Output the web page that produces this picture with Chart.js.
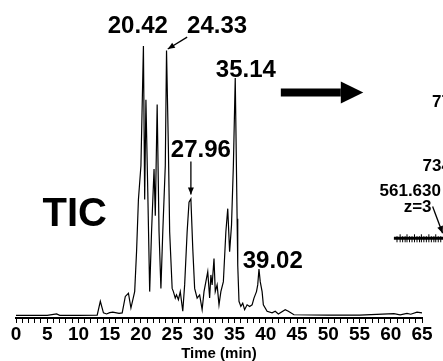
<!DOCTYPE html>
<html>
<head>
<meta charset="utf-8">
<script src="https://cdn.jsdelivr.net/npm/chart.js@4/dist/chart.umd.min.js"></script>
<style>
  html, body { margin: 0; padding: 0; background: #fff; }
  #box { width: 443px; height: 361px; }
</style>
</head>
<body>
<div id="box"><canvas id="tic"></canvas></div>
<script>
// retention time (min) and TIC intensity (% of base peak)
var time = [0, 5, 6.5, 7, 10, 13, 13.5, 14, 14.5, 15, 15.5, 16.5, 17, 17.5, 18, 18.4, 19, 19.3, 19.6, 20,
  20.4, 20.6, 20.8, 21.1, 21.4, 21.7, 22.1, 22.3, 22.6, 22.9, 23.2, 23.5, 23.9, 24.1, 24.4, 24.6, 25.0,
  25.2, 25.5, 25.7, 26.0, 26.3, 26.7, 27.0, 27.4, 27.7, 28.0, 28.3, 28.6, 29.0, 29.4, 29.8, 30.1, 30.4,
  30.7, 31.0, 31.2, 31.4, 31.7, 31.9, 32.2, 32.5, 32.8, 33.2, 33.6, 33.9, 34.2, 34.5, 34.8, 35.1, 35.4,
  35.5, 35.7, 36.0, 36.3, 36.6, 37.0, 37.4, 37.8, 38.1, 38.5, 38.7, 38.9, 39.1, 39.4, 39.6, 40.2, 41.0,
  41.5, 42.0, 43.1, 43.6, 44.5, 50, 55, 60.5, 61.5, 62.6, 63.2, 64.2, 65];
var intensity = [0, 0, 0.5, 0, 0, 0.1, 5.2, 0.9, 0.5, 1, 1.2, 0.7, 0.9, 7, 8.2, 2.7, 8.8, 23.6, 43, 55.5,
  100, 43, 80, 45.7, 8.8, 31, 54.3, 37, 78.3, 31, 10, 31, 55.5, 98.3, 61.7, 31, 10,
  8.8, 6.4, 7.6, 5.8, 8.8, 1.5, 11.3, 31, 42, 43.2, 24.8, 10, 6.4, 7.6, 2.1, 8.8, 12.5,
  16.2, 6.4, 15, 11.3, 21.1, 8.8, 11.3, 3.9, 8.8, 12.5, 31, 39.6, 23.6, 33.4, 55.5, 88.1, 35.9,
  18.7, 5.2, 3.3, 4.5, 2.1, 3.9, 3.3, 3.9, 6.4, 8.8, 11.3, 17.2, 12.5, 8.8, 3.9, 1.5, 0.9,
  1.5, 0.5, 2.1, 1.5, 0.2, 0.1, 0.1, 0.6, 0.2, 0.7, 0.4, 1.2, 0.9];

// peak labels
var peakLabels = ["20.42", "24.33", "35.14", "27.96", "39.02"];
var peakLabelX = [19.5, 32.2, 36.8, 29.6, 41.1];
var peakLabelY = [104.8, 104.8, 88.5, 58.9, 17.5];

var xTicks = [0, 65, 1];

var FONT = "'Liberation Sans', Arial, sans-serif";

var points = time.map(function (t, i) { return { x: t, y: intensity[i] }; });

function arrowHead(ctx, x1, y1, x2, y2, len, wid) {
  var a = Math.atan2(y2 - y1, x2 - x1);
  ctx.beginPath();
  ctx.moveTo(x2, y2);
  ctx.lineTo(x2 - len * Math.cos(a) + wid * Math.sin(a), y2 - len * Math.sin(a) - wid * Math.cos(a));
  ctx.lineTo(x2 - len * Math.cos(a) - wid * Math.sin(a), y2 - len * Math.sin(a) + wid * Math.cos(a));
  ctx.closePath();
  ctx.fill();
}

function thinArrow(ctx, x1, y1, x2, y2) {
  ctx.lineWidth = 1.3;
  ctx.beginPath();
  ctx.moveTo(x1, y1);
  ctx.lineTo(x2, y2);
  ctx.stroke();
  arrowHead(ctx, x1, y1, x2, y2, 7, 3);
}

var annotations = {
  id: 'annotations',
  afterDraw: function (chart) {
    var ctx = chart.ctx;
    var xs = chart.scales.x, ys = chart.scales.y;
    var X = function (v) { return xs.getPixelForValue(v); };
    var Y = function (v) { return ys.getPixelForValue(v); };
    ctx.save();
    ctx.fillStyle = '#000';
    ctx.strokeStyle = '#000';
    ctx.textAlign = 'center';
    ctx.textBaseline = 'alphabetic';

    ctx.font = "bold 24px " + FONT;
    peakLabels.forEach(function (lbl, i) {
      ctx.fillText(lbl, X(peakLabelX[i]), Y(peakLabelY[i]));
    });

    ctx.font = "bold 40px " + FONT;
    ctx.fillText("TIC", X(9.4), Y(33));

    // arrows to 24.33 and 27.96
    thinArrow(ctx, X(27.4), Y(103.3), X(24.3), Y(98.9));
    thinArrow(ctx, X(28.0), Y(57.1), X(28.0), Y(44.9));

    // big arrow to the next panel
    ctx.lineWidth = 8;
    ctx.beginPath();
    ctx.moveTo(X(42.4), Y(82.7));
    ctx.lineTo(X(52.0), Y(82.7));
    ctx.stroke();
    arrowHead(ctx, X(52.0), Y(82.7), X(55.6), Y(82.7), X(55.6) - X(52.0), 11);

    // edge of the neighbouring spectrum panel
    ctx.font = "bold 17px " + FONT;
    ctx.textAlign = 'left';
    ctx.fillText("774.0", X(66.6), Y(77.5));
    ctx.fillText("734.0", X(65.1), Y(53.7));
    ctx.fillText("561.630", X(58.2), Y(44.3));
    ctx.textAlign = 'center';
    ctx.fillText("z=3", X(64.3), Y(38.3));
    thinArrow(ctx, X(66.7), Y(40.4), X(68.3), Y(30.5));
    ctx.lineWidth = 3;
    ctx.beginPath();
    ctx.moveTo(X(60.5), Y(28.6));
    ctx.lineTo(X(68.5), Y(28.6));
    ctx.stroke();
    ctx.lineWidth = 1;
    [61.0, 61.5, 61.9, 62.3, 62.6, 63.0, 63.4, 63.8, 64.2, 64.6, 64.9, 65.3, 65.7, 66.1, 66.5, 66.9, 67.2, 67.6, 68.0].forEach(function (t, i) {
      ctx.beginPath();
      ctx.moveTo(X(t), Y(28.6) - (i % 3 === 1 ? 4 : 2));
      ctx.lineTo(X(t), Y(28.6) + 4);
      ctx.stroke();
    });
    ctx.restore();
  }
};

new Chart("tic", {
  type: "line",
  data: {
    datasets: [{
      label: "TIC",
      data: points,
      borderColor: "#000",
      borderWidth: 1.2,
      pointRadius: 0,
      tension: 0,
      fill: false,
      clip: false
    }]
  },
  options: {
    responsive: true,
    maintainAspectRatio: false,
    animation: false,
    layout: { padding: { left: 16, right: 21, top: 46, bottom: 0 } },
    plugins: { legend: { display: false }, tooltip: { enabled: false } },
    scales: {
      x: {
        type: "linear",
        min: xTicks[0],
        max: xTicks[1],
        grid: { drawOnChartArea: false, drawTicks: true, tickLength: 5, tickColor: "#000", tickWidth: 1 },
        border: { display: true, color: "#000", width: 2 },
        ticks: {
          stepSize: xTicks[2],
          autoSkip: false,
          maxRotation: 0,
          padding: 2,
          color: "#000",
          font: { family: FONT, size: 19, weight: "bold", lineHeight: 1 },
          callback: function (v) { return v % 5 === 0 ? String(v) : ""; }
        },
        title: {
          display: true,
          text: "Time (min)",
          color: "#000",
          padding: 0,
          font: { family: FONT, size: 15, weight: "bold", lineHeight: 1 }
        }
      },
      y: {
        display: false,
        min: -1,
        max: 100
      }
    }
  },
  plugins: [annotations]
});
</script>
</body>
</html>
